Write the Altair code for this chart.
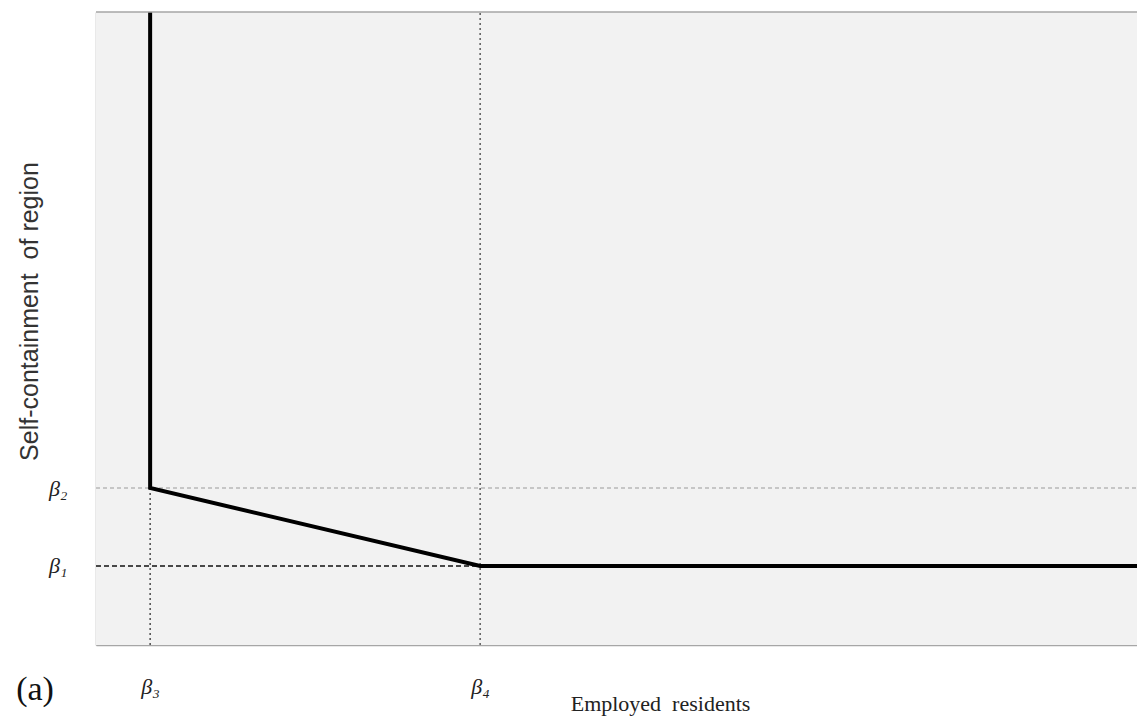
import altair as alt
import pandas as pd

# Threshold values (data units on 0-100 scales)
beta1 = 12.5   # y threshold (lower)
beta2 = 24.8   # y threshold (upper)
beta3 = 5.2    # x threshold (left)
beta4 = 36.9   # x threshold (right)

x_min, x_max = 0, 100
y_min, y_max = 0, 100

# Solid boundary curve
curve_x = [beta3, beta3, beta4, x_max]
curve_y = [y_max, beta2, beta1, beta1]

x_tick_values = [beta3, beta4]
x_tick_labels = ["β₃", "β₄"]
y_tick_values = [beta1, beta2]
y_tick_labels = ["β₁", "β₂"]

W, H = 1041, 633

curve_df = pd.DataFrame({"x": curve_x, "y": curve_y, "o": list(range(len(curve_x)))})

xs = alt.Scale(domain=[x_min, x_max], nice=False, zero=False)
ys = alt.Scale(domain=[y_min, y_max], nice=False, zero=False)


def lab_expr(vals, labs):
    parts = []
    for v, l in zip(vals, labs):
        parts.append(f"abs(datum.value - {v}) < 0.01 ? '{l}'")
    return " : ".join(parts) + " : ''"


xaxis = alt.Axis(values=x_tick_values, labelExpr=lab_expr(x_tick_values, x_tick_labels),
                 ticks=False, grid=False, domain=True, domainColor="#a6a6a6", domainWidth=1.5,
                 labelFont="Liberation Serif", labelFontSize=22, labelFontStyle="italic",
                 labelColor="#222", labelPadding=31, labelAngle=0,
                 title="Employed\u00a0\u00a0residents", titleFont="Liberation Serif", titleFontSize=22,
                 titleFontWeight="normal", titleColor="#222", titleX=564, titleY=58,
                 titleBaseline="middle", titleAlign="center", titleAnchor="start")
yaxis = alt.Axis(values=y_tick_values, labelExpr=lab_expr(y_tick_values, y_tick_labels),
                 ticks=False, grid=False, domain=True, domainColor="#a6a6a6", domainWidth=1.5,
                 labelFont="Liberation Serif", labelFontSize=22, labelFontStyle="italic",
                 labelColor="#222", labelPadding=29,
                 title="Self-containment\u00a0\u00a0of region", titleFont="Liberation Sans", titleFontSize=25,
                 titleFontWeight="normal", titleColor="#333", titleX=-67, titleY=299,
                 titleAngle=-90, titleBaseline="middle", titleAlign="center", titleAnchor="start")

bg_df = pd.DataFrame({"x": [x_min], "x2": [x_max], "y": [y_min], "y2": [y_max]})
background = alt.Chart(bg_df).mark_rect(color="#f2f2f2").encode(
    x=alt.X("x:Q", scale=xs, axis=xaxis), x2="x2:Q",
    y=alt.Y("y:Q", scale=ys, axis=yaxis), y2="y2:Q")

curve = alt.Chart(curve_df).mark_line(color="black", strokeWidth=4, strokeJoin="miter", clip=True).encode(
    x=alt.X("x:Q", scale=xs),
    y=alt.Y("y:Q", scale=ys),
    order="o:Q",
)

rules_df = pd.DataFrame({
    "x": [x_min, x_min, beta3, beta4],
    "x2": [x_max, beta4, beta3, beta4],
    "y": [beta2, beta1, y_min, y_min],
    "y2": [beta2, beta1, beta2, y_max],
    "kind": ["b2", "b1", "b3", "b4"],
})


def rule(kind, color, dash, width):
    return alt.Chart(rules_df[rules_df.kind == kind]).mark_rule(
        color=color, strokeDash=dash, strokeWidth=width).encode(
        x=alt.X("x:Q", scale=xs), x2="x2:Q",
        y=alt.Y("y:Q", scale=ys), y2="y2:Q")


r_b2 = rule("b2", "#9a9a9a", [4, 3], 1.2)
r_b1 = rule("b1", "#111111", [5, 3], 1.5)
r_b3 = rule("b3", "#333333", [2, 3], 1.3)
r_b4 = rule("b4", "#444444", [2, 3], 1.3)

top_df = pd.DataFrame({"x": [x_min], "x2": [x_max], "y": [y_max]})
top_border = alt.Chart(top_df).mark_rule(color="#a6a6a6", strokeWidth=1.5).encode(
    x=alt.X("x:Q", scale=xs), x2="x2:Q", y=alt.Y("y:Q", scale=ys))

panel_df = pd.DataFrame({"label": ["(a)"]})
panel = alt.Chart(panel_df).mark_text(font="Liberation Serif", fontSize=34, color="#111",
                                      align="center", baseline="middle").encode(
    text="label:N", x=alt.value(-61), y=alt.value(678))

chart = alt.layer(background, r_b2, r_b3, r_b4, r_b1, curve, top_border, panel).properties(
    width=W, height=H,
    padding={"left": 88, "top": 4, "right": 0, "bottom": 71},
    autosize=alt.AutoSizeParams(type="none"),
).configure_view(stroke=None).configure(background="white")

chart.save("out.html", embed_options={"renderer": "svg", "actions": False})
